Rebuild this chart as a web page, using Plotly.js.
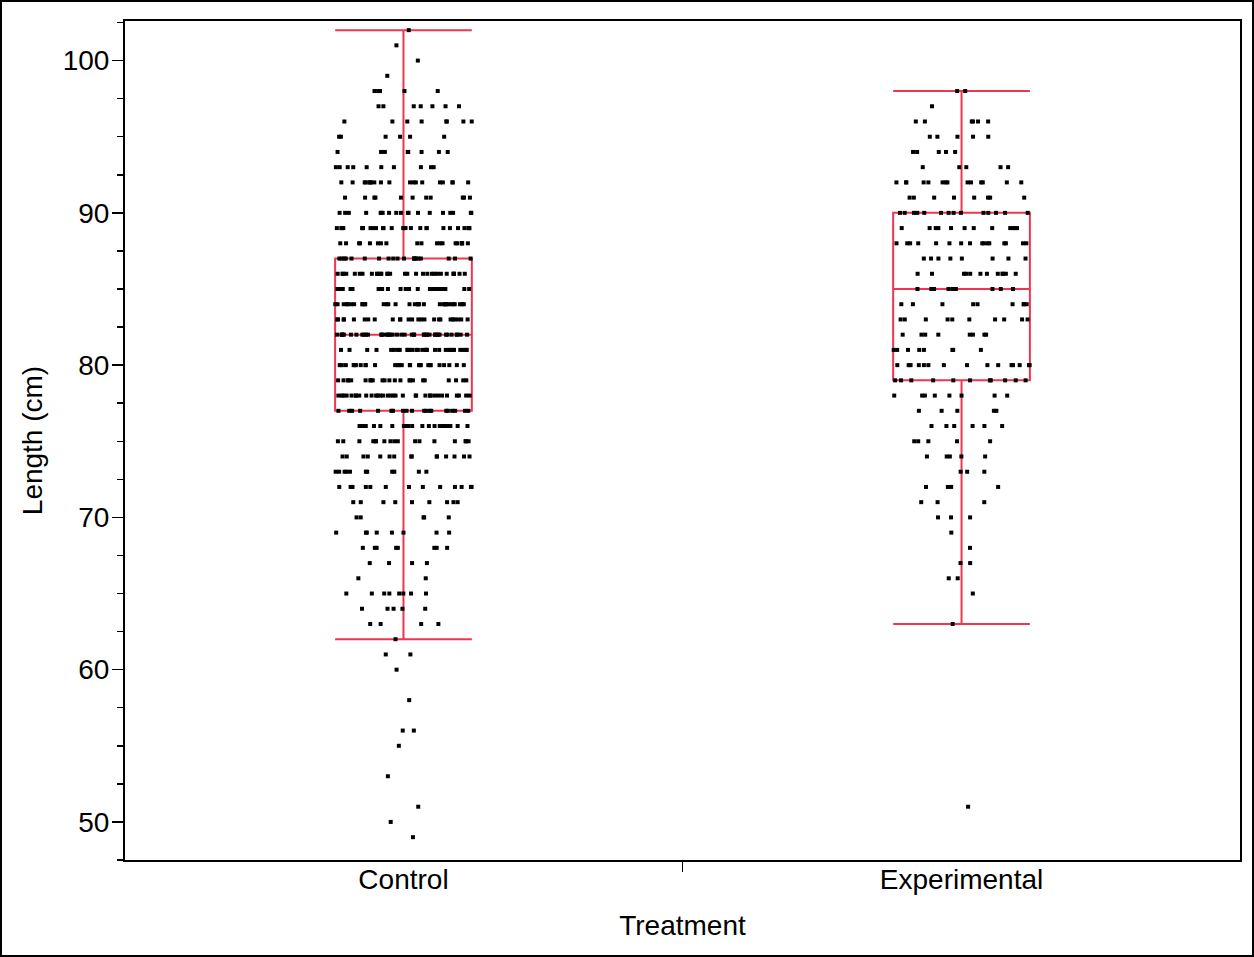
<!DOCTYPE html>
<html>
<head>
<meta charset="utf-8">
<script src="https://cdn.plot.ly/plotly-3.0.1.min.js"></script>
<style>
  html, body { margin: 0; padding: 0; background: #fff; }
  #chart { width: 1254px; height: 957px; }
  #frame { position: absolute; left: 0; top: 0; width: 1254px; height: 957px; box-sizing: border-box; border: 2px solid #000; pointer-events: none; }
</style>
</head>
<body>
<div id="chart"></div>
<div id="frame"></div>
<script>
// Categories
const categories = ['Control', 'Experimental'];

// Control group: observed length levels (cm) and number of points at each level
const controlLevels = [102,101,100,99,98,97,96,95,94,93,92,91,90,89,88,87,86,85,84,83,82,81,80,79,78,77,76,75,74,73,72,71,70,69,68,67,66,65,64,63,62,61,60,58,56,55,53,51,50,49];
const controlCounts = [1,1,1,1,5,7,8,6,8,10,19,11,19,27,19,20,30,23,33,25,42,30,27,23,32,20,21,17,15,11,13,9,5,8,8,4,2,8,5,4,1,2,1,1,2,1,1,1,1,1];

// Experimental group: observed length levels (cm) and number of points at each level
const expLevels = [98,97,96,95,94,93,92,91,90,89,88,87,86,85,84,83,82,81,80,79,78,77,76,75,74,73,72,71,70,69,68,67,66,65,63,51];
const expCounts = [2,1,6,5,5,5,14,8,14,12,16,8,12,10,9,10,8,8,15,11,8,5,6,5,5,3,4,3,3,1,1,2,2,1,1,1];

// Axis labels
const xTitle = 'Treatment';
const yTitle = 'Length (cm)';

function expand(levels, counts) {
  const out = [];
  levels.forEach((v, i) => { for (let k = 0; k < counts[i]; k++) out.push(v); });
  return out;
}

const boxColor = '#ee3650';
const fontFam = '"Liberation Sans", Arial, Helvetica, sans-serif';
const fs = 28;

function boxTrace(name, levels, counts) {
  const y = expand(levels, counts);
  return {
    type: 'box',
    name: name,
    x: y.map(() => name),
    y: y,
    boxpoints: 'all',
    jitter: 1,
    pointpos: 0,
    width: 0.245,
    whiskerwidth: 1,
    quartilemethod: 'linear',
    fillcolor: 'rgba(0,0,0,0)',
    line: { color: boxColor, width: 2 },
    marker: { symbol: 'square', size: 4, color: '#000', line: { width: 0 } },
    hoverinfo: 'skip',
    showlegend: false
  };
}

const data = [
  boxTrace(categories[0], controlLevels, controlCounts),
  boxTrace(categories[1], expLevels, expCounts)
];

const layout = {
  width: 1254,
  height: 957,
  margin: { l: 125, r: 14, t: 21, b: 97, pad: 0 },
  paper_bgcolor: '#fff',
  plot_bgcolor: '#fff',
  font: { family: fontFam, size: fs, color: '#000' },
  showlegend: false,
  boxmode: 'overlay',
  xaxis: {
    type: 'category',
    categoryorder: 'array',
    categoryarray: categories,
    range: [-0.499, 1.499],
    showline: true, linecolor: '#000', linewidth: 2, mirror: true,
    ticks: 'outside', tickson: 'boundaries', ticklen: 10, tickwidth: 1.5, tickcolor: '#000',
    ticklabelstandoff: -7,
    showgrid: false, zeroline: false,
    tickfont: { family: fontFam, size: fs, color: '#000' },
    title: { text: xTitle, font: { family: fontFam, size: fs, color: '#000' }, standoff: 22 }
  },
  yaxis: {
    range: [47.5, 102.6],
    tick0: 0, dtick: 10,
    showline: true, linecolor: '#000', linewidth: 2, mirror: true,
    ticks: 'outside', ticklen: 11, tickwidth: 1.5, tickcolor: '#000',
    ticklabelstandoff: -3,
    minor: { tick0: 0, dtick: 2.5, ticks: 'outside', ticklen: 6, tickwidth: 1.5, tickcolor: '#000', showgrid: false },
    showgrid: false, zeroline: false,
    tickfont: { family: fontFam, size: fs, color: '#000' },
    title: { text: yTitle, font: { family: fontFam, size: fs, color: '#000' }, standoff: 12 }
  }
};

Plotly.newPlot('chart', data, layout, { displayModeBar: false, staticPlot: true });
</script>
</body>
</html>
